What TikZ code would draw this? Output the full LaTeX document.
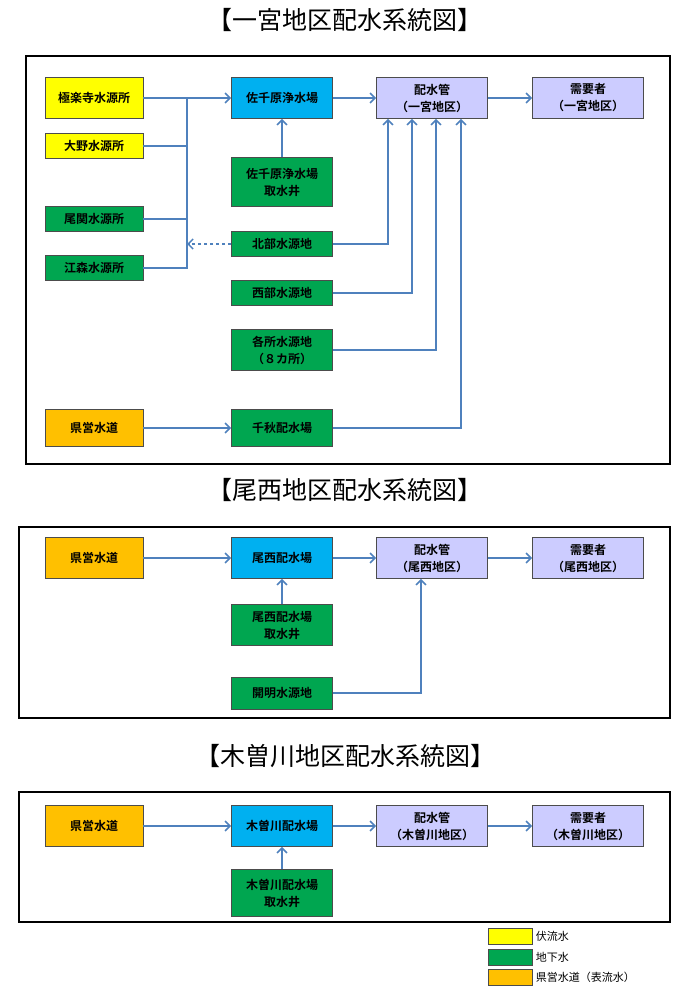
\documentclass[tikz,border=0pt]{standalone}
\usepackage{fontspec}
\setmainfont{Noto Sans CJK JP}[BoldFont={Noto Sans CJK JP Bold}]
\usetikzlibrary{arrows.meta,positioning}
\definecolor{fukuyel}{RGB}{255,255,0}
\definecolor{chikagreen}{RGB}{0,166,80}
\definecolor{joublue}{RGB}{0,176,240}
\definecolor{kenorange}{RGB}{255,192,0}
\definecolor{pipelav}{RGB}{204,204,255}
\definecolor{flowblue}{RGB}{79,129,189}

\begin{document}
\begin{tikzpicture}[x=1pt,y=-1pt, font=\bfseries\fontsize{12}{17}\selectfont]
      \tikzstyle{b}=[rectangle,draw=black!70,line width=0.8pt,align=center,inner sep=1pt,minimum width=98pt,minimum height=25pt]
      \tikzstyle{src}=[b,fill=fukuyel]
      \tikzstyle{gw}=[b,fill=chikagreen]
      \tikzstyle{ken}=[b,fill=kenorange]
      \tikzstyle{plant}=[b,minimum width=101pt,fill=joublue]
      \tikzstyle{pipe}=[b,minimum width=111pt,minimum height=41pt,fill=pipelav]
      \tikzstyle{frame}=[draw,line width=1.5pt]
      \tikzstyle{ttl}=[font=\fontsize{25}{28}\selectfont]
      \tikzstyle{fl}=[flowblue,line width=1.5pt,-{Straight Barb[length=5pt,width=10pt]}]
      \tikzstyle{ln}=[flowblue,line width=1.5pt]
      \tikzstyle{leg}=[b,minimum width=44pt,minimum height=16pt]
      \tikzstyle{legt}=[font=\fontsize{11}{13}\selectfont]

      \fill[white] (0,0) rectangle (690,987);

      % ichinomiya
      \node[ttl] (t1) at (345,20) {【一宮地区配水系統図】};
      \draw[frame] (26,56) rectangle (670,464);
      \node[src,minimum height=41pt] (gokuraku) at (94,98) {極楽寺水源所};
      \node[src] (ono) at (94,146) {大野水源所};
      \node[gw] (ozeki) at (94,219) {尾関水源所};
      \node[gw] (emori) at (94,268) {江森水源所};
      \node[ken,minimum height=37pt] (ken1) at (94,428) {県営水道};
      \node[plant,minimum height=41pt] (sachi) at (282,98) {佐千原浄水場};
      \node[gw,minimum width=101pt,minimum height=49pt] (sachiw) at (282,182) {佐千原浄水場\\取水井};
      \node[gw,minimum width=101pt] (hokubu) at (282,244) {北部水源地};
      \node[gw,minimum width=101pt] (seibu) at (282,293) {西部水源地};
      \node[gw,minimum width=101pt,minimum height=41pt] (kakusho) at (282,350) {各所水源地\\（８カ所）};
      \node[gw,minimum width=101pt,minimum height=37pt] (senshu) at (282,428) {千秋配水場};
      \node[pipe] (pipe1) at (432,98) {配水管\\（一宮地区）};
      \node[pipe] (user1) at (588,98) {需要者\\（一宮地区）};
      \coordinate (bus) at (187,98);
      \draw[fl] (gokuraku) -- (sachi);
      \draw[ln] (bus) |- (emori.east);
      \draw[ln] (ono.east) -- (bus |- ono.east);
      \draw[ln] (ozeki.east) -- (bus |- ozeki.east);
      \draw[fl,dashed] (hokubu.west) -- (bus |- hokubu.west);
      \draw[fl] (sachiw) -- (sachi);
      \draw[fl] (sachi) -- (pipe1);
      \draw[fl] (pipe1) -- (user1);
      \draw[fl] (hokubu.east) -| ([xshift=-44pt]pipe1.south);
      \draw[fl] (seibu.east) -| ([xshift=-20pt]pipe1.south);
      \draw[fl] (kakusho.east) -| ([xshift=4pt]pipe1.south);
      \draw[fl] (senshu.east) -| ([xshift=29pt]pipe1.south);
      \draw[fl] (ken1) -- (senshu);

      % bisai
      \node[ttl] (t2) at (345,490) {【尾西地区配水系統図】};
      \draw[frame] (19,527) rectangle (670,718);
      \node[ken,minimum height=41pt] (ken2) at (94,558) {県営水道};
      \node[plant,minimum height=41pt] (bisai) at (282,558) {尾西配水場};
      \node[gw,minimum width=101pt,minimum height=41pt] (bisaiw) at (282,625) {尾西配水場\\取水井};
      \node[gw,minimum width=101pt,minimum height=32pt] (kaimei) at (282,693) {開明水源地};
      \node[pipe] (pipe2) at (432,558) {配水管\\（尾西地区）};
      \node[pipe] (user2) at (588,558) {需要者\\（尾西地区）};
      \draw[fl] (ken2) -- (bisai);
      \draw[fl] (bisaiw) -- (bisai);
      \draw[fl] (bisai) -- (pipe2);
      \draw[fl] (pipe2) -- (user2);
      \draw[fl] (kaimei.east) -| ([xshift=-11pt]pipe2.south);

      % kisogawa
      \node[ttl] (t3) at (345,756) {【木曽川地区配水系統図】};
      \draw[frame] (19,792) rectangle (670,922);
      \node[ken,minimum height=41pt] (ken3) at (94,826) {県営水道};
      \node[plant,minimum height=41pt] (kiso) at (282,826) {木曽川配水場};
      \node[gw,minimum width=101pt,minimum height=47pt] (kisow) at (282,893) {木曽川配水場\\取水井};
      \node[pipe] (pipe3) at (432,826) {配水管\\（木曽川地区）};
      \node[pipe] (user3) at (588,826) {需要者\\（木曽川地区）};
      \draw[fl] (ken3) -- (kiso);
      \draw[fl] (kisow) -- (kiso);
      \draw[fl] (kiso) -- (pipe3);
      \draw[fl] (pipe3) -- (user3);

      % legend
      \node[leg,fill=fukuyel] (lg1) at (510,936) {};
      \node[leg,fill=chikagreen] (lg2) at (510,957) {};
      \node[leg,fill=kenorange] (lg3) at (510,977) {};
      \node[legt,right=0pt of lg1] (lgt1) {伏流水};
      \node[legt,right=0pt of lg2] (lgt2) {地下水};
      \node[legt,right=0pt of lg3] (lgt3) {県営水道（表流水）};
    \end{tikzpicture}
\end{document}
